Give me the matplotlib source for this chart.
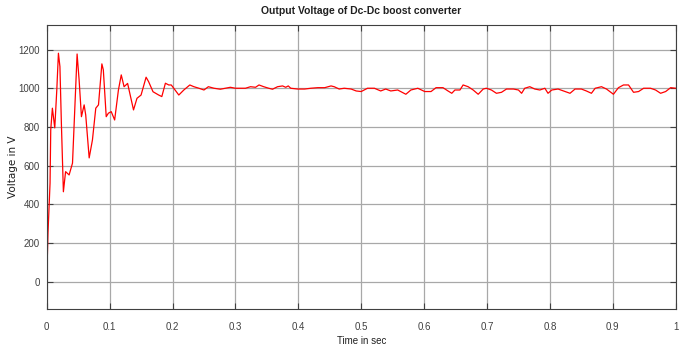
import matplotlib
matplotlib.use("Agg")
import matplotlib.pyplot as plt
import numpy as np

# output voltage (time in s, voltage in V)
t_transient = [0.0, 0.002, 0.0053, 0.0064, 0.009, 0.0128, 0.016, 0.0186, 0.021,
               0.0233, 0.0265, 0.030, 0.0356, 0.041, 0.0447, 0.0483, 0.0515,
               0.0552, 0.0595, 0.062, 0.0675, 0.0727, 0.078, 0.0823, 0.0877,
               0.090, 0.0946, 0.098, 0.1026, 0.108, 0.114, 0.1185, 0.123,
               0.1286, 0.138, 0.1435, 0.150, 0.158, 0.162, 0.169, 0.178, 0.183,
               0.1887, 0.194, 0.198, 0.202, 0.210, 0.218, 0.2275, 0.234, 0.242,
               0.250, 0.257]
v_transient = [10, 250, 510, 785, 897, 795, 990, 1181, 1112,
               820, 465, 569, 552, 613, 905, 1177, 1043,
               853, 914, 862, 640, 733, 897, 914, 1126,
               1095, 853, 871, 879, 836, 991, 1069, 1008,
               1025, 888, 948, 965, 1057, 1034, 982, 965, 957,
               1026, 1017, 1017, 1000, 965, 991, 1017, 1008, 1000,
               991, 1008]

t_steady = [0.266, 0.276, 0.284, 0.292, 0.300, 0.308, 0.316, 0.324, 0.332, 0.3375,
            0.345, 0.353, 0.359, 0.367, 0.375, 0.380, 0.384, 0.388, 0.399, 0.410,
            0.420, 0.431, 0.442, 0.452, 0.457, 0.465, 0.473, 0.484, 0.492, 0.500,
            0.510, 0.521, 0.531, 0.539, 0.547, 0.558, 0.571, 0.579, 0.590, 0.601,
            0.611, 0.619, 0.630, 0.638, 0.644, 0.649, 0.657, 0.662, 0.670, 0.678,
            0.686, 0.694, 0.699, 0.707, 0.715, 0.723, 0.731, 0.742, 0.750, 0.755,
            0.760, 0.768, 0.776, 0.784, 0.792, 0.797, 0.803, 0.813, 0.824, 0.832,
            0.840, 0.850, 0.858, 0.866, 0.872, 0.882, 0.890, 0.901, 0.909, 0.917,
            0.925, 0.933, 0.941, 0.949, 0.960, 0.968, 0.976, 0.984, 0.992, 1.000]
v_steady = [1000, 995, 1000, 1005, 1000, 1000, 1000, 1008, 1005, 1017,
            1008, 1000, 995, 1008, 1012, 1005, 1012, 1000, 996, 996,
            1000, 1003, 1003, 1012, 1008, 996, 1000, 996, 986, 983,
            1000, 1000, 986, 996, 986, 991, 969, 991, 1000, 983,
            983, 1003, 1003, 986, 974, 991, 991, 1017, 1008, 991,
            969, 996, 1000, 991, 974, 979, 996, 996, 991, 974,
            1000, 1008, 996, 991, 1000, 974, 991, 996, 983, 974,
            996, 996, 986, 974, 1000, 1008, 996, 969, 1003, 1017,
            1017, 979, 983, 1000, 1000, 991, 974, 983, 1003, 1000]

x_ticks = [0, 0.1, 0.2, 0.3, 0.4, 0.5, 0.6, 0.7, 0.8, 0.9, 1]
x_labels = ["0", "0.1", "0.2", "0.3", "0.4", "0.5", "0.6", "0.7", "0.8", "0.9", "1"]
y_ticks = [0, 200, 400, 600, 800, 1000, 1200]

t = np.array(t_transient + t_steady)
v = np.array(v_transient + v_steady)

narrow = ["Liberation Sans", "DejaVu Sans"]

fig = plt.figure(figsize=(6.83, 3.49), dpi=100)
ax = fig.add_axes([0.0684, 0.1146, 0.9209, 0.8138])

ax.plot(t, v, color="#ff0000", lw=0.9)

ax.set_xlim(0, 1)
ax.set_ylim(-141, 1327)
ax.set_xticks(x_ticks)
ax.set_xticklabels(x_labels, family=narrow, fontsize=7, color="#404040")
ax.set_yticks(y_ticks)
ax.set_yticklabels([str(y) for y in y_ticks], family=narrow, fontsize=7, color="#404040")
ax.tick_params(direction="in", length=4, width=0.8, color="#404040",
               top=True, right=True)
ax.tick_params(axis="x", pad=9)
ax.tick_params(axis="y", pad=5)
ax.grid(True, color="#a8a8a8", lw=0.9)
for s in ax.spines.values():
    s.set_color("#404040")
    s.set_linewidth(0.8)

ax.set_title("Output Voltage of Dc-Dc boost converter", family=narrow,
             fontsize=7.5, fontweight="bold", color="#202020", pad=8)
ax.set_xlabel("Time in sec", family=narrow, fontsize=7, color="#202020", labelpad=3)
ax.set_ylabel("Voltage in V", fontsize=7.5, color="#202020")
ax.yaxis.set_label_coords(-0.045, 0.5)

fig.savefig("out.png", dpi=100)
